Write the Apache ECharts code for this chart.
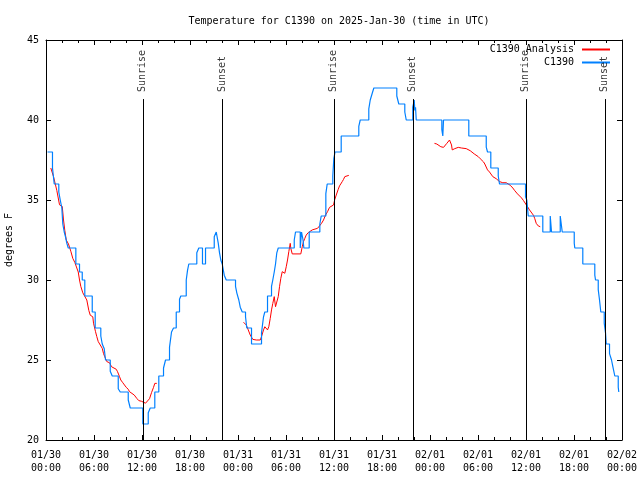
<!DOCTYPE html>
<html>
<head>
<meta charset="utf-8">
<script src="https://cdn.jsdelivr.net/npm/echarts@6/dist/echarts.min.js"></script>
<style>html,body{margin:0;padding:0;background:#fff}#c{width:640px;height:480px}</style>
</head>
<body>
<div id="c"></div>
<script>
// hours since 2025-01-30 00:00 UTC
const xTickLabels = ['01/30\n00:00','01/30\n06:00','01/30\n12:00','01/30\n18:00','01/31\n00:00','01/31\n06:00','01/31\n12:00','01/31\n18:00','02/01\n00:00','02/01\n06:00','02/01\n12:00','02/01\n18:00','02/02\n00:00'];
const yTicks = [20, 25, 30, 35, 40, 45];

// observed station temperature: [hour, degF] level starts (step line)
const obsC1390 = [
 [0.19,38],[0.81,37],[1.03,36],[1.60,35.5],[1.78,35],[1.98,34.5],[2.10,33.5],[2.28,33],[2.44,32.7],[2.60,32.3],
 [2.78,32],[3.73,31],[4.19,30.5],[4.53,30],[4.85,29],[5.78,28],[6.15,27],[6.85,26.5],[7.03,26],[7.28,25.7],
 [7.44,25],[8.03,24.3],[8.28,24],[9.03,23.2],[9.28,23],[10.28,22.5],[10.53,22],[12.10,21],[12.78,21.7],[13.03,22],
 [13.60,23],[14.10,24],[14.69,24.5],[14.94,25],[15.44,25.8],[15.69,26.75],[15.94,27],[16.28,28],[16.69,28.8],[16.85,29],
 [17.53,30],[17.69,30.6],[17.85,31],[18.85,31.7],[19.10,32],[19.56,31],[19.94,32],[21.03,32.7],[21.28,33],[21.53,32.3],
 [21.69,31.7],[21.85,31.25],[22.03,31],[22.28,30.3],[22.53,30],[23.69,29.6],[23.85,29.2],[24.10,28.75],[24.28,28.3],[24.53,28],
 [24.94,27.7],[25.10,27],[25.69,26],[26.94,26.7],[27.19,27.7],[27.35,28],[27.69,29],[28.19,29.6],[28.35,30],[28.53,30.5],
 [28.69,31],[28.85,31.7],[29.03,32],[31.03,32.5],[31.19,33],[31.78,32],[31.94,33],[32.13,32.5],[32.23,32],[32.90,33],
 [34.23,33.5],[34.40,34],[34.98,35.4],[35.15,36],[35.85,36.5],[35.98,37.6],[36.13,38],[36.90,39],[39.10,39.6],[39.28,40],
 [40.35,40.7],[40.53,41.25],[40.78,41.67],[40.98,42],[43.85,41.5],[44.10,41],[44.85,40.5],[45.03,40],[45.85,40.8],[46.03,41.25],
 [46.10,40.6],[46.19,40.8],[46.28,40],[49.48,39.4],[49.60,39],[49.69,40],[52.85,39],[55.03,38.3],[55.19,38],[55.60,37],
 [56.53,36.5],[56.69,36],[59.94,35.2],[60.10,35],[60.28,34],[62.10,33],[63.03,34],[63.19,33],[64.28,34],[64.53,33],
 [66.03,32.3],[66.10,32],[67.10,31],[68.60,30.3],[68.69,30],[69.03,29.4],[69.19,28.75],[69.35,28],[69.78,27.3],[69.94,26.7],
 [70.03,26],[70.44,25.4],[70.69,25],[70.85,24.6],[71.10,24],[71.53,23.3],[71.60,23]
];

// analysis temperature, three runs: [hour, degF]
const analysisRun1 = [
 [0.60,37.0],[0.94,36.46],[1.35,35.6],[1.69,34.7],[2.03,34.6],[2.19,33.75],[2.35,33.1],[2.53,32.5],[2.81,32.25],[3.10,31.8],
 [3.35,31.35],[3.60,31.1],[3.85,31.0],[4.03,30.5],[4.19,30.0],[4.35,29.6],[4.60,29.2],[4.85,29.15],[5.10,28.75],[5.35,28.1],
 [5.53,27.8],[5.85,27.7],[5.94,27.3],[6.19,26.77],[6.35,26.46],[6.53,26.15],[6.78,26.08],[7.03,25.73],[7.19,25.4],[7.35,25.2],
 [7.60,24.9],[7.94,24.83],[8.19,24.58],[8.44,24.48],[8.78,24.42],[8.94,24.27],[9.19,23.96],[9.35,23.75],[9.60,23.58],[9.85,23.54],
 [10.03,23.29],[10.28,23.17],[10.44,23.02],[10.69,23.0],[11.03,22.81],[11.35,22.6],[11.60,22.46],[11.94,22.42],[12.19,22.38],[12.44,22.3],
 [12.69,22.3],[12.94,22.58],[13.19,22.96],[13.44,23.29],[13.60,23.54],[13.85,23.54]
];
const analysisRun2 = [
 [24.69,27.36],[25.03,27.19],[25.28,26.88],[25.53,26.56],[25.85,26.29],[26.28,26.25],[26.78,26.25],[26.94,26.46],[27.19,26.88],[27.35,27.08],
 [27.53,27.19],[27.69,26.88],[27.85,27.08],[28.03,27.6],[28.19,28.13],[28.35,28.54],[28.53,28.96],[28.69,28.33],[28.85,28.33],[29.03,28.96],
 [29.19,29.58],[29.35,30.1],[29.53,30.52],[29.69,30.63],[29.85,30.42],[30.03,30.83],[30.19,31.25],[30.35,31.77],[30.53,32.29],[30.60,31.98],
 [30.78,31.63],[31.85,31.63],[32.03,32.08],[32.19,32.4],[32.35,32.6],[32.53,32.81],[32.78,32.96],[33.03,33.08],[33.28,33.13],[33.53,33.21],
 [33.94,33.23],[34.19,33.38],[34.44,33.54],[34.69,33.75],[34.94,34.06],[35.19,34.27],[35.44,34.54],[35.69,34.63],[35.94,34.69],[36.10,35.04],
 [36.28,35.31],[36.53,35.67],[36.69,35.88],[36.85,36.0],[37.03,36.15],[37.19,36.29],[37.35,36.46],[37.60,36.54],[37.85,36.54]
];
const analysisRun3 = [
 [48.56,38.54],[48.85,38.5],[49.10,38.38],[49.35,38.33],[49.69,38.29],[49.94,38.38],[50.10,38.54],[50.28,38.63],[50.44,38.75],[50.60,38.79],
 [50.69,38.44],[50.78,38.13],[51.10,38.21],[51.53,38.29],[51.94,38.25],[52.53,38.21],[52.78,38.17],[53.03,38.08],[53.28,37.96],[53.53,37.88],
 [53.78,37.81],[54.03,37.71],[54.28,37.58],[54.53,37.5],[54.69,37.38],[54.85,37.25],[55.03,37.13],[55.19,36.88],[55.44,36.75],[55.69,36.67],
 [55.85,36.46],[56.10,36.42],[56.28,36.33],[56.44,36.25],[56.69,36.15],[57.10,36.08],[57.53,36.08],[57.78,36.0],[58.03,35.92],[58.19,35.83],
 [58.35,35.75],[58.60,35.58],[58.78,35.46],[58.94,35.38],[59.19,35.29],[59.44,35.13],[59.69,34.96],[59.94,34.92],[60.19,34.58],[60.44,34.38],
 [60.69,34.33],[60.94,34.04],[61.10,33.83],[61.28,33.54],[61.53,33.38],[61.78,33.33]
];

// sun events (hour)
const sunriseHours = [12.10, 35.98, 59.98];
const sunsetHours = [22.00, 45.85, 69.85];

const FONT = 'DejaVu Sans Mono';
const SUN_LINE_TOP = 41.31;  // degF level where event lines start
const SUN_LABEL_BASE = 41.75;

const analysisData = [].concat(analysisRun1, [[14, null]], analysisRun2, [[40, null]], analysisRun3);

const sunEvents = [];
sunriseHours.forEach(h => sunEvents.push({name: 'Sunrise', h}));
sunsetHours.forEach(h => sunEvents.push({name: 'Sunset', h}));

const chart = echarts.init(document.getElementById('c'), null, {renderer: 'canvas'});

const axisCommon = {
  axisLine: {show: true, onZero: false, lineStyle: {color: '#000', width: 1}},
  splitLine: {show: false}
};

chart.setOption({
  animation: false,
  backgroundColor: '#fff',
  title: {
    text: 'Temperature for C1390 on 2025-Jan-30 (time in UTC)',
    left: 334, top: 11, textAlign: 'center',
    textStyle: {fontFamily: FONT, fontSize: 10, fontWeight: 'normal', color: '#000'}
  },
  legend: {
    orient: 'vertical', right: 30, top: 44, align: 'right', padding: 0,
    itemWidth: 28, itemHeight: 2, itemGap: 2,
    textStyle: {fontFamily: FONT, fontSize: 10, color: '#000', lineHeight: 11, padding: [0, 3, 0, 0]},
    data: [
      {name: 'C1390 Analysis', icon: 'rect', itemStyle: {color: '#ff0000'}},
      {name: 'C1390', icon: 'rect', itemStyle: {color: '#0080ff'}}
    ]
  },
  grid: {left: 46, right: 18, top: 40, bottom: 40, containLabel: false, outerBoundsMode: 'none'},
  xAxis: [
    Object.assign({}, axisCommon, {
      type: 'value', min: 0, max: 72, interval: 6, position: 'bottom',
      axisTick: {show: true, inside: true, length: 5, lineStyle: {color: '#000'}},
      minorTick: {show: true, splitNumber: 3, length: 3, lineStyle: {color: '#000'}},
      axisLabel: {fontFamily: FONT, fontSize: 10, color: '#000', margin: 9, lineHeight: 13,
        hideOverlap: false, showMinLabel: true, showMaxLabel: true,
        formatter: v => xTickLabels[Math.round(v / 6)]}
    }),
    Object.assign({}, axisCommon, {
      type: 'value', min: 0, max: 72, interval: 6, position: 'top',
      axisTick: {show: true, inside: true, length: 5, lineStyle: {color: '#000'}},
      minorTick: {show: true, splitNumber: 3, length: 3, lineStyle: {color: '#000'}},
      axisLabel: {show: false}
    })
  ],
  yAxis: [
    Object.assign({}, axisCommon, {
      type: 'value', min: yTicks[0], max: yTicks[yTicks.length - 1], interval: 5, position: 'left',
      name: 'degrees F', nameLocation: 'middle', nameGap: 32, nameRotate: 90,
      nameTextStyle: {fontFamily: FONT, fontSize: 10, color: '#000'},
      axisTick: {show: true, inside: true, length: 5, lineStyle: {color: '#000'}},
      axisLabel: {fontFamily: FONT, fontSize: 10, color: '#000', margin: 7}
    }),
    Object.assign({}, axisCommon, {
      type: 'value', min: yTicks[0], max: yTicks[yTicks.length - 1], interval: 5, position: 'right',
      axisTick: {show: true, inside: true, length: 5, lineStyle: {color: '#000'}},
      axisLabel: {show: false}
    })
  ],
  series: [
    {
      name: 'C1390 Analysis', type: 'line', data: analysisData, showSymbol: false, symbol: 'none',
      connectNulls: false, lineStyle: {color: '#ff0000', width: 1}, itemStyle: {color: '#ff0000'}, z: 2
    },
    {
      name: 'C1390', type: 'line', data: obsC1390, step: 'end', showSymbol: false, symbol: 'none',
      lineStyle: {color: '#0080ff', width: 1.2}, itemStyle: {color: '#0080ff'}, z: 3
    },
    {
      name: 'sun', type: 'scatter', z: 10, silent: true, symbolSize: 1,
      itemStyle: {color: 'rgba(0,0,0,0)'},
      data: sunEvents.map(e => ({value: [e.h, SUN_LABEL_BASE], name: e.name})),
      label: {show: true, position: 'inside', rotate: 90, align: 'left', verticalAlign: 'middle',
        formatter: p => p.name, fontFamily: FONT, fontSize: 10, color: '#000'},
      markLine: {
        silent: true, symbol: ['none', 'none'], label: {show: false},
        lineStyle: {color: '#000', width: 1, type: 'solid'},
        data: sunEvents.map(e => [{coord: [e.h, SUN_LINE_TOP]}, {coord: [e.h, 20]}])
      }
    }
  ]
});
</script>
</body>
</html>
